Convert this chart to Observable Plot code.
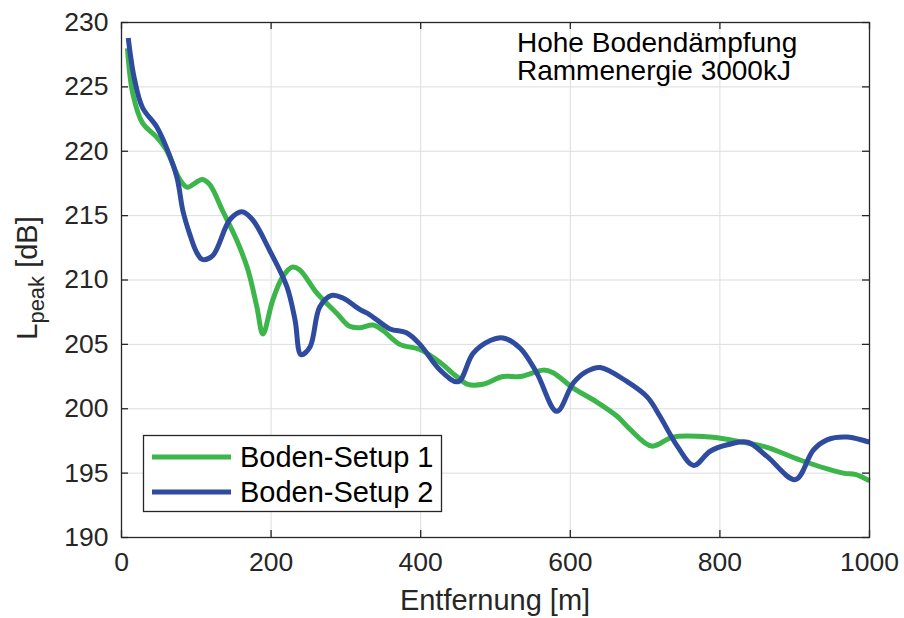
<!DOCTYPE html>
<html>
<head>
<meta charset="utf-8">
<script src="https://cdn.jsdelivr.net/npm/d3@7"></script>
<script src="https://cdn.jsdelivr.net/npm/@observablehq/plot@0.6"></script>
<style>
  html, body { margin: 0; padding: 0; background: #fff; }
  #chart { width: 904px; height: 618px; }
</style>
</head>
<body>
<div id="chart"></div>
<script>
// Boden-Setup 1 (green)
const setup1X = [8,15,28,47,60,78,88,100,108,118,135,154,169,181,189,202,215,228,238,261,288,305,319,336,349,372,399,426,448,463,483,510,533,564,577,604,636,663,680,709,737,787,831,863,908,965,981,1000];
const setup1Y = [228.0,224.5,222.2,221.1,220.1,217.8,217.2,217.6,217.8,217.4,215.4,213.1,210.8,207.9,205.8,208.4,210.2,211.0,210.8,209.0,207.4,206.4,206.3,206.5,206.1,205.0,204.6,203.6,202.5,201.9,201.9,202.5,202.5,203.0,202.8,201.6,200.5,199.4,198.4,197.1,197.8,197.8,197.4,197.0,196.0,195.0,194.9,194.4];
// Boden-Setup 2 (blue)
const setup2X = [9,17,28,47,60,74,82,91,100,108,122,145,161,175,198,221,232,240,252,265,281,296,319,332,359,381,399,426,450,470,493,510,533,555,582,604,622,640,676,703,720,743,765,787,810,837,863,901,925,944,970,1000];
const setup2Y = [228.8,225.7,223.4,221.9,220.3,218.0,215.4,213.6,212.2,211.6,211.9,214.7,215.3,214.7,212.3,209.5,206.9,204.2,204.8,207.9,208.8,208.6,207.7,207.3,206.2,205.9,205.0,203.0,202.1,204.3,205.3,205.5,204.7,202.8,199.8,202.0,202.9,203.2,202.1,200.9,199.4,197.1,195.6,196.7,197.2,197.4,196.3,194.5,196.8,197.6,197.8,197.4];

const seriesNames = ["Boden-Setup 1", "Boden-Setup 2"];
const seriesColors = ["#3cb54a", "#2e4b9f"];
const xTicks = [0, 200, 400, 600, 800, 1000];
const yTicks = [190, 195, 200, 205, 210, 215, 220, 225, 230];
const annotationLines = ["Hohe Bodendämpfung", "Rammenergie 3000kJ"];
const xLabel = "Entfernung [m]";

const data1 = setup1X.map((x, i) => ({x, y: setup1Y[i], s: seriesNames[0]}));
const data2 = setup2X.map((x, i) => ({x, y: setup2Y[i], s: seriesNames[1]}));

const W = 904, H = 618;
const mL = 121, mR = 35, mT = 22, mB = 81;
const frameW = W - mL - mR, frameH = H - mT - mB;
const tickLen = 7;
const FONT = "'Liberation Sans', Arial, Helvetica, sans-serif";

const plot = Plot.plot({
  width: W, height: H,
  marginLeft: mL, marginRight: mR, marginTop: mT, marginBottom: mB,
  style: {fontFamily: FONT, fontSize: "26.5px", color: "#262626", background: "#fff"},
  x: {domain: [0, 1000], label: null},
  y: {domain: [190, 230], label: null},
  marks: [
    Plot.gridX(xTicks, {stroke: "#dddddd", strokeOpacity: 1, strokeWidth: 1}),
    Plot.gridY(yTicks, {stroke: "#dddddd", strokeOpacity: 1, strokeWidth: 1}),
    Plot.line(data1, {x: "x", y: "y", stroke: seriesColors[0], strokeWidth: 5, curve: "catmull-rom", strokeLinejoin: "round", strokeLinecap: "butt"}),
    Plot.line(data2, {x: "x", y: "y", stroke: seriesColors[1], strokeWidth: 5, curve: "catmull-rom", strokeLinejoin: "round", strokeLinecap: "butt"}),
    // inward ticks (MATLAB style)
    Plot.tickX(xTicks, {x: d => d, insetTop: frameH - tickLen, stroke: "#262626", strokeWidth: 1.3}),
    Plot.tickX(xTicks, {x: d => d, insetBottom: frameH - tickLen, stroke: "#262626", strokeWidth: 1.3}),
    Plot.tickY(yTicks, {y: d => d, insetRight: frameW - tickLen, stroke: "#262626", strokeWidth: 1.3}),
    Plot.tickY(yTicks, {y: d => d, insetLeft: frameW - tickLen, stroke: "#262626", strokeWidth: 1.3}),
    Plot.frame({stroke: "#262626", strokeWidth: 1.3}),
    Plot.axisX(xTicks, {tickSize: 0, tickPadding: 15, label: null, fontSize: 26.5, fill: "#262626", tickFormat: d3.format("d")}),
    Plot.axisY(yTicks, {tickSize: 0, tickPadding: 13, label: null, fontSize: 26.5, fill: "#262626", tickFormat: d3.format("d")})
  ]
});

document.getElementById("chart").appendChild(plot);

const svg = d3.select(plot);

// x-axis label
svg.append("text")
  .attr("x", mL + frameW / 2).attr("y", 610)
  .attr("text-anchor", "middle")
  .style("font-family", FONT).style("font-size", "29px").attr("fill", "#262626")
  .text(xLabel);

// y-axis label with subscript
const yl = svg.append("text")
  .attr("transform", "translate(37,278) rotate(-90)")
  .attr("text-anchor", "middle")
  .style("font-family", FONT).style("font-size", "29px").attr("fill", "#262626");
yl.append("tspan").text("L");
yl.append("tspan").attr("baseline-shift", "-30%").style("font-size", "22px").text("peak");
yl.append("tspan").text(" [dB]");

// annotation
annotationLines.forEach((t, i) => {
  svg.append("text")
    .attr("x", 517).attr("y", 52 + i * 28)
    .attr("text-anchor", "start")
    .style("font-family", FONT).style("font-size", "28px").attr("fill", "#000")
    .text(t);
});

// legend
const lg = svg.append("g");
lg.append("rect").attr("x", 143.5).attr("y", 435.5).attr("width", 298).attr("height", 76)
  .attr("fill", "#fff").attr("stroke", "#262626").attr("stroke-width", 1.3);
seriesNames.forEach((name, i) => {
  const cy = 457 + i * 35;
  lg.append("line").attr("x1", 152).attr("x2", 231).attr("y1", cy).attr("y2", cy)
    .attr("stroke", seriesColors[i]).attr("stroke-width", 5);
  lg.append("text").attr("x", 240).attr("y", cy + 10)
    .attr("text-anchor", "start")
    .style("font-family", FONT).style("font-size", "29px").attr("fill", "#000")
    .text(name);
});
</script>
</body>
</html>
